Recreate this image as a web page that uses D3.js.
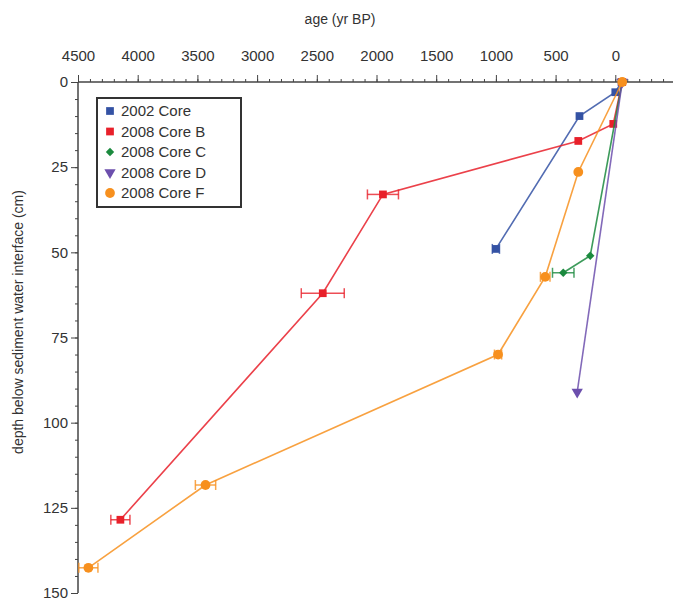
<!DOCTYPE html>
<html>
<head>
<meta charset="utf-8">
<script src="https://cdn.jsdelivr.net/npm/d3@7"></script>
<style>
  body { margin: 0; background: #fff; }
  svg text { font-family: "Liberation Sans", Arial, sans-serif; fill: #333; }
</style>
</head>
<body>
<svg id="chart" width="673" height="600"></svg>
<script>
// core names and colours
const cores = ["2002 Core", "2008 Core B", "2008 Core C", "2008 Core D", "2008 Core F"];
const colors = ["#3452a4", "#e8202a", "#1b8a3e", "#6c4fad", "#f7901e"];
const shapes = ["square", "square", "diamond", "triangle", "circle"];

// age (yr BP), depth (cm), age error (yr)
const ages2002 = [-52, 0, 300, 1000];
const depth2002 = [0, 3, 10, 49];
const err2002 = [0, 0, 0, 30];

const agesB = [-58, 17, 310, 1946, 2450, 4145];
const depthB = [0, 12.3, 17.3, 33, 62, 128.5];
const errB = [0, 0, 0, 130, 180, 80];

const agesC = [-58, 210, 436];
const depthC = [0, 51, 56];
const errC = [0, 0, 90];

const agesD = [-58, 319];
const depthD = [0, 91];
const errD = [0, 0];

const agesF = [-58, 310, 587, 982, 3432, 4413];
const depthF = [0, 26.4, 57.2, 80, 118.3, 142.6];
const errF = [0, 0, 40, 30, 85, 80];

const xTicks = [4500, 4000, 3500, 3000, 2500, 2000, 1500, 1000, 500, 0];
const yTicks = [0, 25, 50, 75, 100, 125, 150];

const series = [
  [ages2002, depth2002, err2002],
  [agesB, depthB, errB],
  [agesC, depthC, errC],
  [agesD, depthD, errD],
  [agesF, depthF, errF]
];

const svg = d3.select("#chart");

let x = d3.scaleLinear().domain([4500, -500]).range([78, 675]);
let y = d3.scaleLinear().domain([0, 150]).range([82, 593]);

// top axis
let xMinor = d3.range(-500, 4501, 100);
svg.append("g")
  .attr("transform", "translate(0," + y(0) + ")")
  .call(d3.axisTop(x).tickValues(xMinor).tickSize(3).tickFormat(""))
  .call(g => g.select(".domain").remove())
  .selectAll("line").attr("stroke", "#444");

svg.append("g")
  .attr("transform", "translate(0," + y(0) + ")")
  .call(d3.axisTop(x).tickValues(xTicks).tickSize(7).tickPadding(14).tickFormat(d3.format("d")))
  .call(g => g.select(".domain").attr("stroke", "#444").attr("stroke-width", 1.5).attr("d", "M" + x(4500) + ",0H673"))
  .call(g => g.selectAll("line").attr("stroke", "#444"))
  .call(g => g.selectAll("text").attr("font-size", 15).style("fill", "#333"));

// left axis
let yMinor = d3.range(0, 151, 5);
svg.append("g")
  .attr("transform", "translate(" + x(4500) + ",0)")
  .call(d3.axisLeft(y).tickValues(yMinor).tickSize(3).tickFormat(""))
  .call(g => g.select(".domain").remove())
  .selectAll("line").attr("stroke", "#444");

svg.append("g")
  .attr("transform", "translate(" + x(4500) + ",0)")
  .call(d3.axisLeft(y).tickValues(yTicks).tickSize(7).tickPadding(3))
  .call(g => g.select(".domain").attr("stroke", "#444").attr("stroke-width", 1.5).attr("d", "M0," + y(0) + "V" + y(150)))
  .call(g => g.selectAll("line").attr("stroke", "#444"))
  .call(g => g.selectAll("text").attr("font-size", 15).style("fill", "#333"));

// axis titles
svg.append("text")
  .attr("x", 340).attr("y", 24)
  .attr("text-anchor", "middle")
  .attr("font-size", 14)
  .text("age (yr BP)");

svg.append("text")
  .attr("transform", "translate(23,322) rotate(-90)")
  .attr("text-anchor", "middle")
  .attr("font-size", 14)
  .text("depth below sediment water interface (cm)");

function symbolFor(shape) {
  if (shape == "square") return d3.symbol(d3.symbolSquare, 60);
  if (shape == "diamond") return d3.symbol(d3.symbolDiamond2, 45);
  if (shape == "triangle") return d3.symbol(d3.symbolTriangle, 55);
  return d3.symbol(d3.symbolCircle, 75);
}

let line = d3.line().x(d => x(d.age)).y(d => y(d.depth));

series.forEach((s, i) => {
  let pts = s[0].map((a, j) => ({ age: a, depth: s[1][j], err: s[2][j] }));
  let g = svg.append("g");
  let col = colors[i];

  g.append("path")
    .attr("d", line(pts))
    .attr("fill", "none")
    .attr("stroke", col)
    .attr("stroke-opacity", 0.85)
    .attr("stroke-width", 1.6);

  // error bars
  let eb = g.selectAll(".err").data(pts.filter(d => d.err > 0)).enter().append("g");
  eb.append("line")
    .attr("x1", d => x(d.age - d.err)).attr("x2", d => x(d.age + d.err))
    .attr("y1", d => y(d.depth)).attr("y2", d => y(d.depth))
    .attr("stroke", col).attr("stroke-width", 1.5).attr("stroke-opacity", 0.8);
  [-1, 1].forEach(sg => {
    eb.append("line")
      .attr("x1", d => x(d.age + sg * d.err)).attr("x2", d => x(d.age + sg * d.err))
      .attr("y1", d => y(d.depth) - 5).attr("y2", d => y(d.depth) + 5)
      .attr("stroke", col).attr("stroke-width", 1.5).attr("stroke-opacity", 0.8);
  });

  let sym = symbolFor(shapes[i]);
  g.selectAll(".pt").data(pts).enter().append("path")
    .attr("d", sym)
    .attr("transform", d => "translate(" + x(d.age) + "," + y(d.depth) + ")" + (shapes[i] == "triangle" ? " rotate(180)" : ""))
    .attr("fill", col);
});

// legend
let legend = svg.append("g");
legend.append("rect")
  .attr("x", 97).attr("y", 98)
  .attr("width", 144).attr("height", 109)
  .attr("fill", "#fff")
  .attr("stroke", "#333")
  .attr("stroke-width", 2);

cores.forEach((name, i) => {
  let yy = 111 + i * 20.5;
  let sym = symbolFor(shapes[i]);
  legend.append("path")
    .attr("d", sym)
    .attr("transform", "translate(110," + yy + ")" + (shapes[i] == "triangle" ? " rotate(180)" : ""))
    .attr("fill", colors[i]);
  legend.append("text")
    .attr("x", 121).attr("y", yy + 5)
    .attr("font-size", 15)
    .text(name);
});
</script>
</body>
</html>
